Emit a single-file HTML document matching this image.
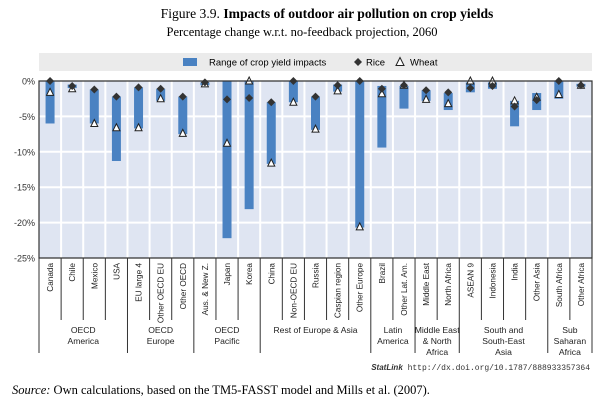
<!DOCTYPE html>
<html><head><meta charset="utf-8"><style>
body{margin:0;background:#fff;width:604px;height:402px;overflow:hidden;font-family:"Liberation Sans",sans-serif}
svg{display:block}
</style></head><body>
<svg width="604" height="402" id="c">
<text x="327" y="18" text-anchor="middle" font-family="Liberation Serif" font-size="13.6">Figure 3.9. <tspan font-weight="bold">Impacts of outdoor air pollution on crop yields</tspan></text>
<text x="302" y="36" text-anchor="middle" font-family="Liberation Serif" font-size="12.5">Percentage change w.r.t. no-feedback projection, 2060</text>
<rect x="39" y="53" width="553" height="18" fill="#ebebeb"/>
<g font-size="9.5">
<rect x="183" y="58" width="14" height="8" fill="#4a82c2"/>
<text x="209" y="65.5">Range of crop yield impacts</text>
<path d="M358 58 L362 62 L358 66 L354 62Z" fill="#333"/>
<text x="366" y="65.5">Rice</text>
<path d="M400 57.5 L404 65.5 L396 65.5Z" fill="#fff" stroke="#222"/>
<text x="410" y="65.5">Wheat</text>
</g>
<rect x="39" y="81" width="553" height="177" fill="#dfe5f2"/>
<g id="grid"></g><g id="bars"></g><g id="marks"></g><g id="axes"></g>
<text x="590" y="370" text-anchor="end" font-size="8" font-family="Liberation Mono" fill="#333"><tspan font-family="Liberation Sans" font-weight="bold" font-style="italic">StatLink</tspan> http://dx.doi.org/10.1787/888933357364</text>
<text x="12" y="394" font-family="Liberation Serif" font-size="12.5"><tspan font-style="italic">Source:</tspan> Own calculations, based on the TM5-FASST model and Mills et al. (2007).</text>
</svg>
<script>
const categories=["Canada","Chile","Mexico","USA","EU large 4","Other OECD EU","Other OECD","Aus. & New Z.","Japan","Korea","China","Non-OECD EU","Russia","Caspian region","Other Europe","Brazil","Other Lat. Am.","Middle East","North Africa","ASEAN 9","Indonesia","India","Other Asia","South Africa","Other Africa"];
const rangeTop=[0,-0.5,-1.2,-2.2,-0.9,-1.1,-2.2,-0.2,0,0,-3,0,-2.2,-0.5,0,-0.7,-0.7,-1.3,-1.7,-0.2,-0.2,-2.8,-1.7,0,-0.4];
const rangeBottom=[-6,-1.0,-6,-11.3,-6.7,-2.8,-7.5,-0.6,-22.2,-18.1,-11.7,-3,-6.9,-1.5,-20.7,-9.4,-3.9,-2.8,-4.1,-1.6,-1.1,-6.4,-4.1,-2.5,-0.8];
const rice=[0,-0.7,-1.2,-2.2,-0.9,-1.1,-2.2,-0.2,-2.6,-2.4,-3,0,-2.2,-0.6,0,-1.1,-0.6,-1.3,-1.6,-1.0,-0.7,-3.6,-2.7,0,-0.6];
const wheat=[-1.6,-1.1,-6,-6.6,-6.6,-2.5,-7.4,-0.4,-8.8,0,-11.6,-3,-6.8,-1.4,-20.6,-1.8,-0.6,-2.6,-3.2,0,0,-2.8,-2.3,-1.9,-0.6];
const yTicks=[0,-5,-10,-15,-20,-25];
const groupNames=[["OECD","America"],["OECD","Europe"],["OECD","Pacific"],["Rest of Europe & Asia"],["Latin","America"],["Middle East","& North","Africa"],["South and","South-East","Asia"],["Sub","Saharan","Africa"]];
const groupSizes=[4,3,3,5,2,2,4,2];

const NS="http://www.w3.org/2000/svg";
const X0=39,X1=592,Y0=81,Y1=258,n=categories.length;
const bw=(X1-X0)/n;
const y=v=>Y0+(0-v)/25*(Y1-Y0);
const xc=i=>X0+bw*(i+0.5);
function mk(p,t,a){const e=document.createElementNS(NS,t);for(const k in a)e.setAttribute(k,a[k]);document.getElementById(p).appendChild(e);return e;}
yTicks.forEach(t=>{
 if(t!==0&&t!==-25){const l=mk('grid','line',{x1:X0,x2:X1,y1:y(t),y2:y(t),stroke:'#fff','stroke-width':2});
 
 }
 const tx=mk('axes','text',{x:X0-4,y:y(t)+3.5,'text-anchor':'end','font-size':9,fill:'#333'});
 
 
 tx.textContent=t+'%';
});
for(let i=1;i<n;i++){const l=mk('grid','line',{x1:X0+bw*i,x2:X0+bw*i,y1:Y0,y2:Y1,stroke:'#fff','stroke-width':2});
 
 }
categories.forEach((c,i)=>{
 const r=mk('bars','rect',{x:xc(i)-4.5,y:y(rangeTop[i]),width:9,height:y(rangeBottom[i])-y(rangeTop[i]),fill:'#4a82c2'});
 
 
 const cx=xc(i),ry=y(rice[i]),wy=y(wheat[i]);
 const w=mk('marks','path',{d:`M${cx} ${wy-4} L${cx+3.5} ${wy+3} L${cx-3.5} ${wy+3}Z`,fill:'#fff',stroke:'#222','stroke-width':1});
 
 
 const d=mk('marks','path',{d:`M${cx} ${ry-4} L${cx+4} ${ry} L${cx} ${ry+4} L${cx-4} ${ry}Z`,fill:'#333'});
 
 
 const t=mk('axes','text',{transform:`translate(${cx+3},263) rotate(-90)`,'text-anchor':'end','font-size':8.2,fill:'#222'});
 
 
 t.textContent=c;
});
const fr=mk('axes','path',{d:`M${X0} ${Y1} L${X0} ${Y0} L${X1} ${Y0} L${X1} ${Y1}Z`,fill:'none',stroke:'#333','stroke-width':1.2});


let s=0;const bounds=[0];groupSizes.forEach(g=>{s+=g;bounds.push(s);});
for(let i=0;i<=n;i++){const gb=bounds.includes(i);
 const l=mk('axes','line',{x1:X0+bw*i,x2:X0+bw*i,y1:Y1,y2:gb?353:320,stroke:'#333','stroke-width':1});
 
 }
groupNames.forEach((g,k)=>{
 const cx=X0+bw*(bounds[k]+bounds[k+1])/2;
 g.forEach((ln,j)=>{const t=mk('axes','text',{x:cx,y:333+j*11,'text-anchor':'middle','font-size':8.6,fill:'#222'});
 
 
 t.textContent=ln;});
});
</script>
</body></html>
